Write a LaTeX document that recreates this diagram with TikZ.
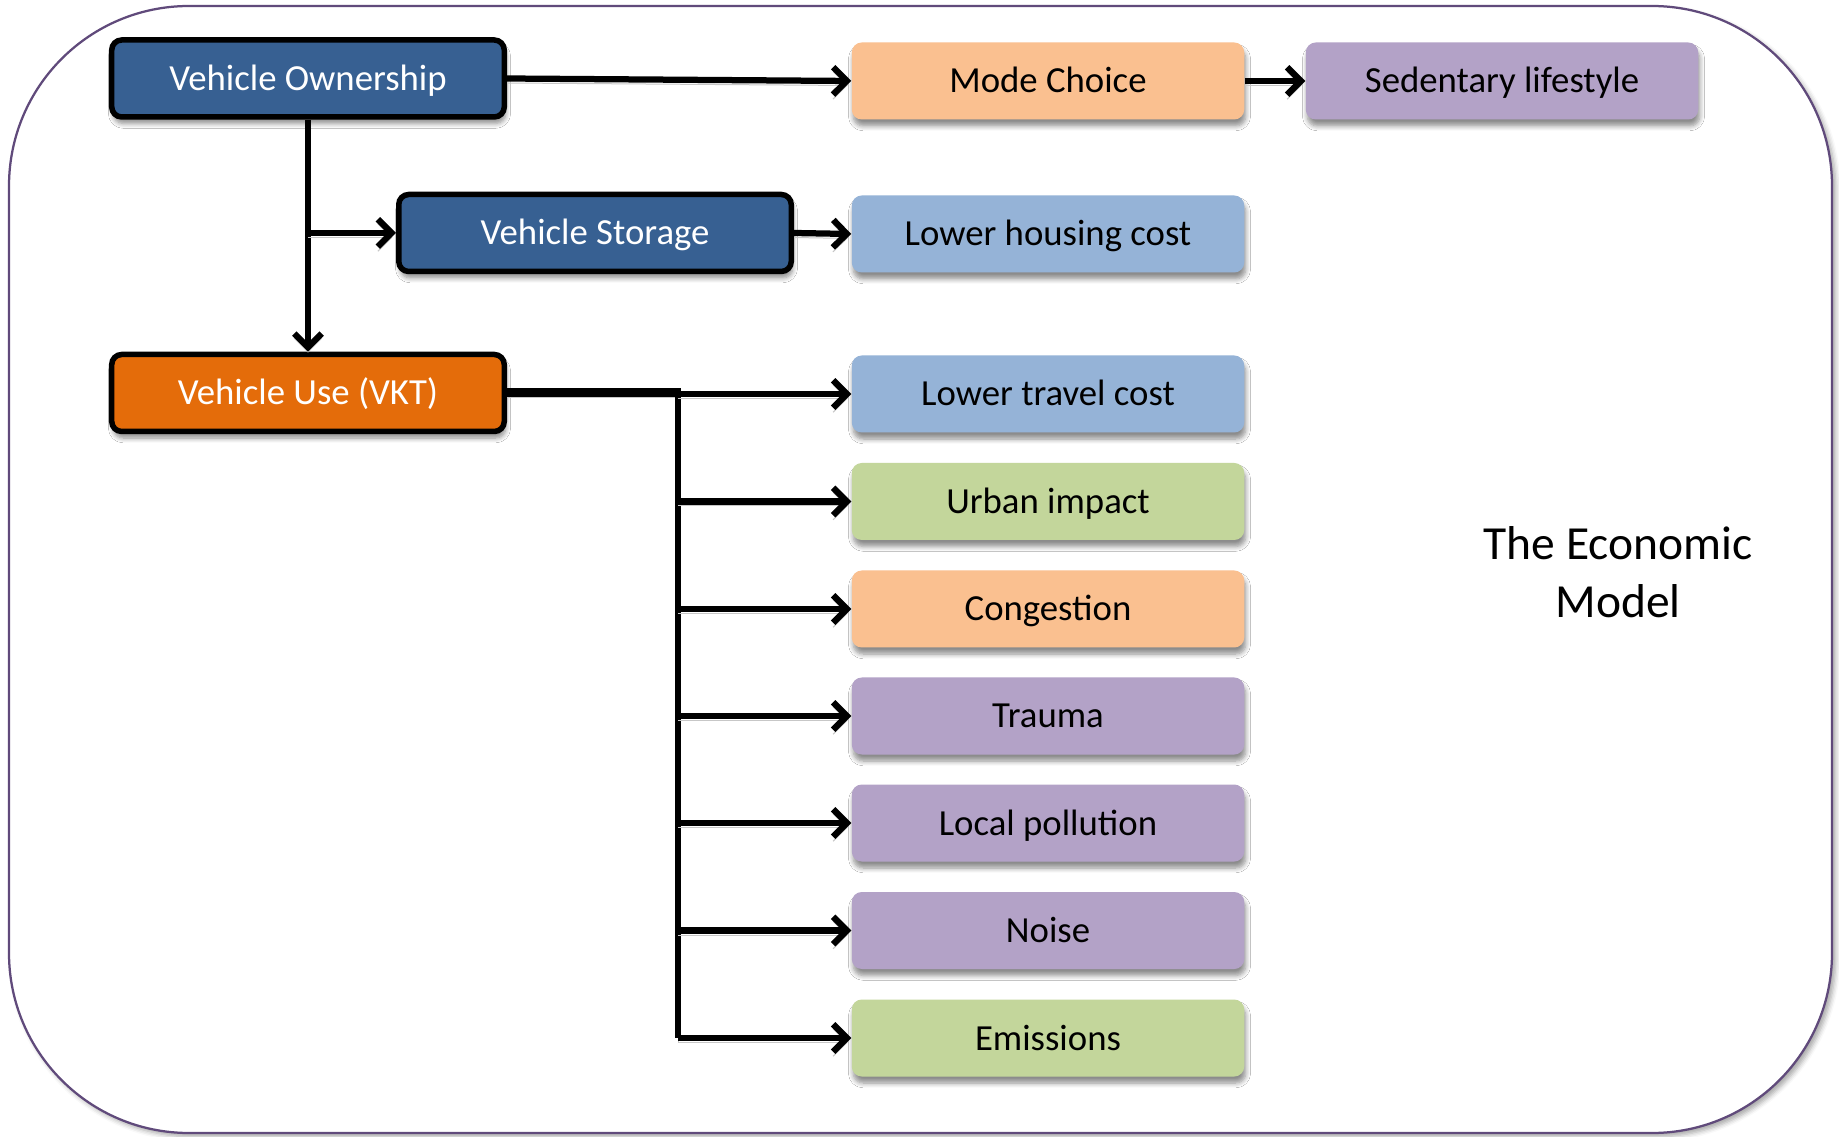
\documentclass[tikz,border=0pt]{standalone}
\usepackage{fontspec}
\setmainfont{Carlito}
\usetikzlibrary{arrows.meta,shadows.blur}
\definecolor{dblue}{HTML}{376092}
\definecolor{vorange}{HTML}{E46C0A}
\definecolor{lorange}{HTML}{FAC090}
\definecolor{lpurple}{HTML}{B3A2C7}
\definecolor{lblue}{HTML}{95B3D7}
\definecolor{lgreen}{HTML}{C3D69B}
\definecolor{frame}{HTML}{604A7B}
\begin{document}
\begin{tikzpicture}[x=0.4pt,y=-0.4pt,
  base/.style={rounded corners=4pt, minimum width=157pt, minimum height=30.8pt, inner sep=0pt,
    font=\fontsize{14.7}{17}\selectfont, align=center, text height=12.6pt, text depth=3pt},
  shad/.style={blur shadow={shadow xshift=0.6pt, shadow yshift=-2.6pt, shadow opacity=45, shadow blur steps=6}},
  dark/.style={base, shad, draw=black, line width=2.2pt, fill=#1, text=white},
  light/.style={base, shad, fill=#1, text=black},
  lshad/.style={preaction={draw=black!22, transform canvas={yshift=-1.8pt}}},
  arr/.style={line width=2.5pt, lshad, -{Straight Barb[length=5.5pt,width=11pt]}}]
\useasboundingbox (0,0) rectangle (1839,1137);
\draw[frame, line width=0.9pt, fill=white, rounded corners=72pt,
  blur shadow={shadow xshift=1.5pt, shadow yshift=-1.5pt, shadow opacity=35}]
  (9,6) rectangle (1832,1133);

\node[dark=dblue]   (VO)  at (308,78.5) {Vehicle Ownership};
\node[dark=dblue]   (VS)  at (595,233)  {Vehicle Storage};
\node[dark=vorange] (VKT) at (308,393)  {Vehicle Use (VKT)};

\node[light=lorange] (MC)  at (1048,81)  {Mode Choice};
\node[light=lpurple] (SL)  at (1502,81)  {Sedentary lifestyle};
\node[light=lblue]   (LHC) at (1048,234) {Lower housing cost};
\node[light=lblue]   (LTC) at (1048,394) {Lower travel cost};
\node[light=lgreen]  (UI)  at (1048,501.5) {Urban impact};
\node[light=lorange] (CG)  at (1048,609) {Congestion};
\node[light=lpurple] (TR)  at (1048,716) {Trauma};
\node[light=lpurple] (LP)  at (1048,823) {Local pollution};
\node[light=lpurple] (NO)  at (1048,930.5) {Noise};
\node[light=lgreen]  (EM)  at (1048,1038) {Emissions};

\node[font=\fontsize{19}{23}\selectfont, align=center] (TEM) at (1618,572) {The Economic\\Model};

\draw[arr] (VO.east) -- (MC.west);
\draw[arr] (MC.east) -- (SL.west);
\draw[arr] (VO.south) -- (VKT.north);
\coordinate (br) at (VO.south |- VS.west);
\draw[arr] (br) -- (VS.west);
\draw[arr] (VS.east) -- (LHC.west);

\coordinate (j) at (678,393);
\coordinate (jb) at (678,1038);
\draw[line width=3.6pt, lshad] (VKT.east) -- (j);
\draw[line width=2.5pt, lshad] ([yshift=1.8pt]j) -- (jb);
\foreach \t in {LTC,UI,CG,TR,LP,NO,EM}{
  \draw[arr] (j |- \t.west) -- (\t.west);
}
\end{tikzpicture}
\end{document}
